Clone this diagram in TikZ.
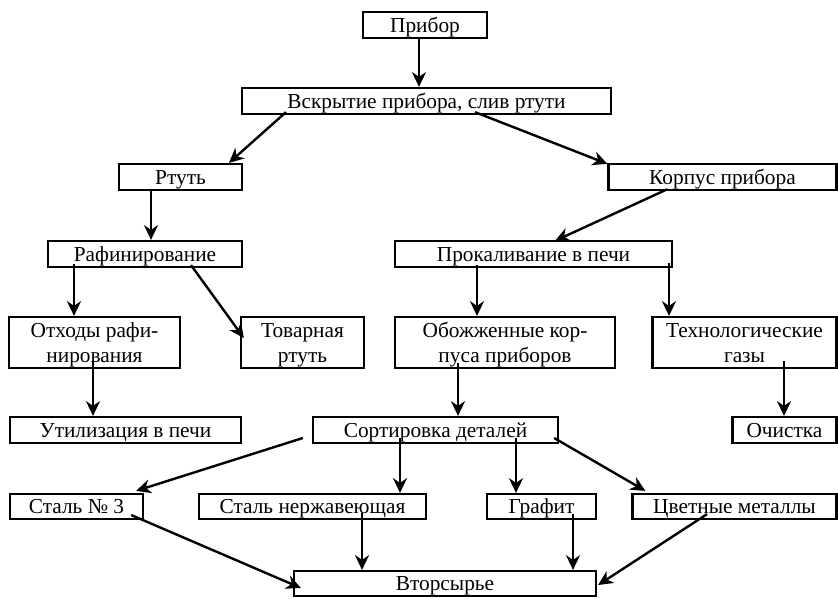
\documentclass[tikz,border=0pt]{standalone}
\usepackage{fontspec}
\setmainfont{Liberation Serif}
\usepackage{tikz}
\usetikzlibrary{arrows.meta, calc}

\begin{document}
\begin{tikzpicture}[
  x=0.75pt, y=-0.75pt,
  blk/.style={draw, line width=1.7pt, inner sep=0pt, align=center,
    font=\fontsize{16}{18.75}\selectfont, text height=10.6pt, text depth=0pt,
    minimum width=#1*0.75pt, minimum height=26*0.75pt},
  tall/.style={minimum height=51*0.75pt, text height=29.35pt, text depth=0pt},
  arr/.style={-{Stealth[length=11pt, width=10.5pt, inset=3.5pt]}, line width=1.8pt}
]
\useasboundingbox (0,0) rectangle (838,599);

% blocks
\node[blk=124] (pribor) at (425,25) {Прибор};
\node[blk=369] (vskr) at (426.5,101) {Вскрытие прибора, слив ртути};
\node[blk=123] (rtut) at (180.5,177) {Ртуть};
\node[blk=228] (korp) at (722.5,177) {Корпус прибора};
\node[blk=194] (raf) at (145,254) {Рафинирование};
\node[blk=277] (prok) at (533.5,254) {Прокаливание в печи};
\node[blk=171, tall] (otx) at (94.5,342.5) {Отходы рафи-\\нирования};
\node[blk=123, tall] (tov) at (302.5,342.5) {Товарная\\ртуть};
\node[blk=220, tall] (obozh) at (505,342.5) {Обожженные кор-\\пуса приборов};
\node[blk=184, tall] (tech) at (744.5,342.5) {Технологические\\газы};
\node[blk=231] (util) at (125.5,430) {Утилизация в печи};
\node[blk=245] (sort) at (435.5,430) {Сортировка деталей};
\node[blk=104] (ochist) at (784.5,430) {Очистка};
\node[blk=133, minimum height=25*0.75pt] (st3) at (76.5,506.5) {Сталь № 3};
\node[blk=227, minimum height=25*0.75pt] (stn) at (312.5,506.5) {Сталь нержавеющая};
\node[blk=109, minimum height=25*0.75pt] (graf) at (541.5,506.5) {Графит};
\node[blk=204, minimum height=25*0.75pt] (cvet) at (734.5,506.5) {Цветные металлы};
\node[blk=302, minimum height=25*0.75pt] (vtor) at (445,583.5) {Вторсырье};

% arrows
\draw[arr] ($(pribor.south)+(-6,0)$) -- ($(vskr.north)+(-7.5,0)$);
\draw[arr] ($(vskr.south)+(-140.5,-3)$) -- ($(rtut.north)+(48.5,0)$);
\draw[arr] ($(vskr.south)+(48.5,-3)$) -- ($(korp.north west)+(0,1)$);
\draw[arr] ($(rtut.south)+(-29.5,-1)$) -- ($(raf.north)+(6,0)$);
\draw[arr] ($(korp.south)+(-55,-2)$) -- ($(prok.north)+(21.5,1)$);
\draw[arr] ($(raf.south)+(-71,-4)$) -- ($(otx.north)+(-20.5,0)$);
\draw[arr] ($(raf.south)+(46,-3)$) -- ($(tov.west)+(4,-4.5)$);
\draw[arr] ($(prok.south)+(-56.5,-3)$) -- ($(obozh.north)+(-28,0)$);
\draw[arr] ($(prok.south)+(135.5,-5)$) -- ($(tech.north)+(-75.5,0)$);
\draw[arr] ($(otx.south)+(-1.5,-8)$) -- ($(util.north)+(-32.5,0)$);
\draw[arr] ($(obozh.south)+(-47,-6)$) -- ($(sort.north)+(22.5,0)$);
\draw[arr] ($(tech.south)+(39.5,-8)$) -- ($(ochist.north)+(-0.5,0)$);
\draw[arr] ($(sort.west)+(-9,8)$) -- ($(st3.north east)+(-8,-2)$);
\draw[arr] ($(sort.south)+(-35.5,-6)$) -- ($(stn.north)+(87.5,0)$);
\draw[arr] ($(sort.south)+(80.5,-6)$) -- ($(graf.north)+(-25.5,0)$);
\draw[arr] ($(sort.east)+(-5,8)$) -- ($(cvet.north west)+(14,-2)$);
\draw[arr] ($(st3.east)+(-13,8.5)$) -- ($(vtor.west)+(8,4.5)$);
\draw[arr] ($(stn.south)+(49.5,-7)$) -- ($(vtor.north)+(-83,0)$);
\draw[arr] ($(graf.south)+(31.5,-6)$) -- ($(vtor.north)+(128,0)$);
\draw[arr] ($(cvet.south)+(-27.5,-6)$) -- ($(vtor.east)+(1,1.5)$);
\end{tikzpicture}
\end{document}
